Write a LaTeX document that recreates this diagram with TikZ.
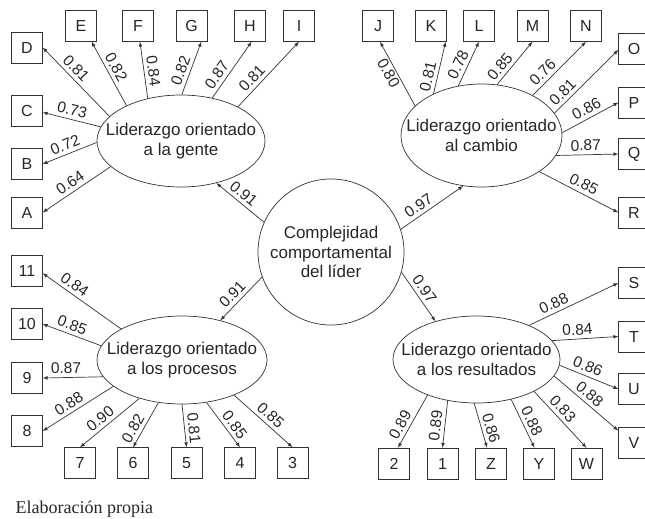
\documentclass[tikz,border=0pt]{standalone}
\usepackage{fontspec}
\setmainfont{Liberation Serif}
\setsansfont{Liberation Sans}
\usetikzlibrary{shapes.geometric}

\begin{document}
\begin{tikzpicture}[x=1pt, y=-1pt,
        item/.style={draw=black!80, rectangle, minimum size=31pt, inner sep=0pt, text=black!85,
            font=\sffamily\fontsize{16}{18}\selectfont},
        latent/.style={draw=black!80, ellipse, inner sep=0pt, line width=0.7pt},
        factxt/.style={align=center, text=black!85, font=\sffamily\fontsize{17}{19.5}\selectfont},
        coef/.style={sloped, above=2pt, inner sep=1.5pt, text=black!85,
            font=\sffamily\fontsize{15.5}{18}\selectfont},
        rel/.style={-latex, draw=black!80, line width=0.7pt}]

        \useasboundingbox (0,0) rectangle (645,519);

        % Second order factor
        \node[latent, circle, minimum size=146pt, factxt] (centro) at (331,252)
            {Complejidad\\comportamental\\del líder};

        % First order factors
        \node[latent, minimum width=168pt, minimum height=92pt] (gente) at (181,141) {};
        \node[factxt] (genteLbl) at (gente) {Liderazgo orientado\\a la gente};
        \node[latent, minimum width=161pt, minimum height=103pt] (cambio) at (481.5,135.5) {};
        \node[factxt] (cambioLbl) at (cambio) {Liderazgo orientado\\al cambio};
        \node[latent, minimum width=170pt, minimum height=88pt] (procesos) at (182,360) {};
        \node[factxt] (procesosLbl) at (procesos) {Liderazgo orientado\\a los procesos};
        \node[latent, minimum width=167pt, minimum height=87pt] (resultados) at (476.5,359.5) {};
        \node[factxt] (resultadosLbl) at (resultados) {Liderazgo orientado\\a los resultados};

        % Items, top left
        \node[item] (D) at (27,47.5) {D};
        \node[item] (C) at (27,111) {C};
        \node[item] (B) at (27,164) {B};
        \node[item] (A) at (27,212.5) {A};
        \node[item] (E) at (81,26) {E};
        \node[item] (F) at (138,26) {F};
        \node[item] (G) at (191.5,26) {G};
        \node[item] (H) at (250,26) {H};
        \node[item] (I) at (299,26) {I};

        % Items, top right
        \node[item] (J) at (378,26) {J};
        \node[item] (K) at (431,26) {K};
        \node[item] (L) at (479,26) {L};
        \node[item] (M) at (532.5,26) {M};
        \node[item] (N) at (586,26) {N};
        \node[item] (O) at (634,48.5) {O};
        \node[item] (P) at (634,102.5) {P};
        \node[item] (Q) at (634,154) {Q};
        \node[item] (R) at (634,212.5) {R};

        % Items, bottom left
        \node[item] (n11) at (27,271) {11};
        \node[item] (n10) at (27,324) {10};
        \node[item] (n9) at (27,378) {9};
        \node[item] (n8) at (27,431) {8};
        \node[item] (n7) at (80,463) {7};
        \node[item] (n6) at (133,463) {6};
        \node[item] (n5) at (186.5,463) {5};
        \node[item] (n4) at (240,463) {4};
        \node[item] (n3) at (292.5,463) {3};

        % Items, bottom right
        \node[item] (S) at (634,283) {S};
        \node[item] (T) at (634,336.5) {T};
        \node[item] (U) at (634,389) {U};
        \node[item] (V) at (634,442.5) {V};
        \node[item] (n2) at (394,463.5) {2};
        \node[item] (n1) at (442.5,463.5) {1};
        \node[item] (Z) at (491,463.5) {Z};
        \node[item] (Y) at (539,463.5) {Y};
        \node[item] (W) at (586.5,463.5) {W};

        % Loadings of the second order factor
        \draw[rel] (centro.156) -- node[coef, pos=0.55] {0.91} (gente.-50);
        \draw[rel] (centro.18) -- node[coef, pos=0.37] {0.97} (cambio.250);
        \draw[rel] (centro.200) -- node[coef, pos=0.55] {0.91} (procesos.46);
        \draw[rel] (centro.344) -- node[coef, pos=0.45] {0.97} (resultados.137);

        % Orientado a la gente
        \draw[rel] (gente.161) -- node[coef, pos=0.6] {0.81} (D.east);
        \draw[rel] (gente.147) -- node[coef, pos=0.53] {0.82} (E.-56);
        \draw[rel] (gente.128) -- node[coef, pos=0.46] {0.84} (F.-83);
        \draw[rel] (gente.89) -- node[coef, pos=0.39] {0.82} (G.-58);
        \draw[rel] (gente.54) -- node[coef, pos=0.31] {0.87} (H.-84);
        \draw[rel] (gente.31) -- node[coef, pos=0.34] {0.81} (I.south);
        \draw[rel] (gente.170) -- node[coef, pos=0.53] {0.73} (C.-5);
        \draw[rel] (gente.181) -- node[coef, pos=0.52] {0.72} (B.east);
        \draw[rel] (gente.200) -- node[coef, pos=0.52] {0.64} (A.east);

        % Orientado al cambio
        \draw[rel] (cambio.156) -- node[coef, pos=0.57, below=2pt] {0.80} (J.-83);
        \draw[rel] (cambio.139) -- node[coef, pos=0.29] {0.81} (K.-47);
        \draw[rel] (cambio.115) -- node[coef, pos=0.39] {0.78} (L.south);
        \draw[rel] (cambio.73) -- node[coef, pos=0.28] {0.85} (M.south);
        \draw[rel] (cambio.38) -- node[coef, pos=0.31] {0.76} (N.south);
        \draw[rel] (cambio.17) -- node[coef, pos=0.23] {0.81} (O.185);
        \draw[rel] (cambio.2) -- node[coef, pos=0.51] {0.86} (P.west);
        \draw[rel] (cambio.-15) -- node[coef, pos=0.48] {0.87} (Q.west);
        \draw[rel] (cambio.-32) -- node[coef, pos=0.51] {0.85} (R.west);

        % Orientado a los procesos
        \draw[rel] (procesos.153) -- node[coef, pos=0.66] {0.84} (n11.-8);
        \draw[rel] (procesos.170) -- node[coef, pos=0.55] {0.85} (n10.east);
        \draw[rel] (procesos.192) -- node[coef, pos=0.61] {0.87} (n9.east);
        \draw[rel] (procesos.201) -- node[coef, pos=0.56] {0.88} (n8.east);
        \draw[rel] (procesos.222) -- node[coef, pos=0.56] {0.90} (n7.north);
        \draw[rel] (procesos.241) -- node[coef, pos=0.68] {0.82} (n6.north);
        \draw[rel] (procesos.270) -- node[coef, pos=0.58] {0.81} (n5.north);
        \draw[rel] (procesos.300) -- node[coef, pos=0.62] {0.85} (n4.north);
        \draw[rel] (procesos.326) -- node[coef, pos=0.52] {0.85} (n3.north);

        % Orientado a los resultados
        \draw[rel] (resultados.33) -- node[coef, pos=0.32] {0.88} (S.west);
        \draw[rel] (resultados.14) -- node[coef, pos=0.39] {0.84} (T.west);
        \draw[rel] (resultados.-4) -- node[coef, pos=0.42] {0.86} (U.west);
        \draw[rel] (resultados.-12) -- node[coef, pos=0.46] {0.88} (V.143);
        \draw[rel] (resultados.216) -- node[coef, pos=0.65] {0.89} (n2.76);
        \draw[rel] (resultados.235) -- node[coef, pos=0.55] {0.89} (n1.north);
        \draw[rel] (resultados.267) -- node[coef, pos=0.62] {0.86} (Z.104);
        \draw[rel] (resultados.311) -- node[coef, pos=0.53] {0.88} (Y.106);
        \draw[rel] (resultados.331) -- node[coef, pos=0.42] {0.83} (W.north);

        % Source
        \node[anchor=base west, text=black!85, font=\fontsize{18}{21}\selectfont] (fuente) at (12,513)
            {Elaboración propia};
    \end{tikzpicture}
\end{document}
